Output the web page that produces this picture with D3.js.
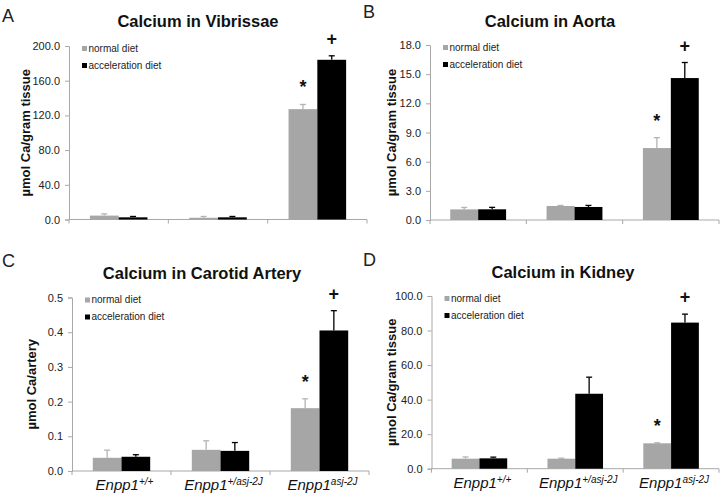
<!DOCTYPE html>
<html>
<head>
<meta charset="utf-8">
<script src="https://cdn.jsdelivr.net/npm/d3@7"></script>
<style>
  body { margin: 0; background: #fff; }
  svg { font-family: "Liberation Sans", Arial, sans-serif; }
</style>
</head>
<body>
<div id="chart"></div>
<script>
// genotypes on the x axis
var genoBase = "Enpp1";
var genoSup = ["+/+", "+/asj-2J", "asj-2J"];
var seriesNames = ["normal diet", "acceleration diet"];

// A - vibrissae (umol Ca / gram tissue)
var vibNormal = [4.5, 2.0, 127.2];
var vibNormalErr = [2.0, 1.5, 5.4];
var vibAccel = [2.5, 2.5, 184.1];
var vibAccelErr = [1.0, 1.0, 4.6];

// B - aorta
var aortaNormal = [1.09, 1.44, 7.4];
var aortaNormalErr = [0.2, 0.06, 1.07];
var aortaAccel = [1.1, 1.34, 14.6];
var aortaAccelErr = [0.2, 0.16, 1.6];

// C - carotid artery (umol Ca / artery)
var carNormal = [0.038, 0.061, 0.181];
var carNormalErr = [0.022, 0.026, 0.027];
var carAccel = [0.041, 0.058, 0.405];
var carAccelErr = [0.006, 0.024, 0.057];

// D - kidney
var kidNormal = [5.8, 5.8, 14.7];
var kidNormalErr = [1.0, 0.3, 0.3];
var kidAccel = [6.0, 43.4, 84.6];
var kidAccelErr = [0.7, 9.6, 4.9];

// y tick values
var vibTicks = [0, 40, 80, 120, 160, 200];
var aortaTicks = [0, 3, 6, 9, 12, 15, 18];
var carTicks = [0, 0.1, 0.2, 0.3, 0.4, 0.5];
var kidTicks = [0, 20, 40, 60, 80, 100];

var width = 722, height = 498;
var grayFill = "#a6a6a6";
var axisColor = "#a8a8a8";

var svg = d3.select("#chart").append("svg")
  .attr("width", width)
  .attr("height", height);

function drawPanel(p) {
  var g = svg.append("g");

  var x = d3.scaleBand().domain([0, 1, 2]).range([p.left, p.right]);
  var inner = d3.scaleBand().domain([0, 1]).range([0, x.bandwidth()]).paddingOuter(0.725);
  var y = d3.scaleLinear().domain([0, p.ticks[p.ticks.length - 1]]).range([p.bottom, p.top]);

  // panel letter + title
  g.append("text")
    .attr("x", p.letterX).attr("y", p.letterY)
    .style("font-size", "18px").attr("fill", "#222")
    .text(p.letter);
  g.append("text")
    .attr("x", p.titleX).attr("y", p.titleY)
    .attr("text-anchor", "middle")
    .style("font-size", "16.5px").style("font-weight", "bold")
    .attr("fill", "#111")
    .text(p.title);

  // y axis
  var yAxis = g.append("g")
    .attr("transform", "translate(" + p.left + ",0)")
    .call(d3.axisLeft(y).tickValues(p.ticks).tickFormat(d3.format(".1f")).tickSize(4).tickPadding(5));
  yAxis.selectAll("path, line").attr("stroke", axisColor);
  yAxis.selectAll("text").style("font-size", "11px").attr("fill", "#222")
    .style("font-family", "'Liberation Sans', Arial, sans-serif");

  // y label
  g.append("text")
    .attr("transform", "translate(" + p.ylabX + "," + ((p.top + p.bottom) / 2) + ") rotate(-90)")
    .attr("text-anchor", "middle")
    .style("font-size", "13px").style("font-weight", "bold")
    .attr("fill", "#111")
    .text(p.ylabel);

  // x axis line + ticks at category boundaries
  g.append("line")
    .attr("x1", p.left).attr("x2", p.right)
    .attr("y1", p.bottom).attr("y2", p.bottom)
    .attr("stroke", axisColor);
  g.selectAll(".xtick").data([0, 1, 2, 3]).join("line")
    .attr("x1", d => p.left + d * x.step()).attr("x2", d => p.left + d * x.step())
    .attr("y1", p.bottom).attr("y2", p.bottom + 4)
    .attr("stroke", axisColor);

  var series = [
    { vals: p.normal, err: p.normalErr, fill: grayFill, errColor: "#b4b4b4", mark: "*" },
    { vals: p.accel, err: p.accelErr, fill: "#000", errColor: "#000", mark: "+" }
  ];

  series.forEach(function (s, si) {
    var bars = g.append("g");
    // error bars (upper only)
    bars.selectAll(".err").data(s.vals).join("line")
      .attr("x1", (d, i) => x(i) + inner(si) + inner.bandwidth() / 2)
      .attr("x2", (d, i) => x(i) + inner(si) + inner.bandwidth() / 2)
      .attr("y1", d => y(d))
      .attr("y2", (d, i) => y(d + s.err[i]))
      .attr("stroke", s.errColor).attr("stroke-width", 1.3);
    bars.selectAll(".cap").data(s.vals).join("line")
      .attr("x1", (d, i) => x(i) + inner(si) + inner.bandwidth() / 2 - 3)
      .attr("x2", (d, i) => x(i) + inner(si) + inner.bandwidth() / 2 + 3)
      .attr("y1", (d, i) => y(d + s.err[i]))
      .attr("y2", (d, i) => y(d + s.err[i]))
      .attr("stroke", s.errColor).attr("stroke-width", 1.3);
    bars.selectAll("rect").data(s.vals).join("rect")
      .attr("x", (d, i) => x(i) + inner(si))
      .attr("y", d => y(d))
      .attr("width", inner.bandwidth())
      .attr("height", d => p.bottom - y(d))
      .attr("fill", s.fill);

    // significance mark over the Enpp1 asj-2J group
    g.append("text")
      .attr("x", x(2) + inner(si) + inner.bandwidth() / 2)
      .attr("y", y(s.vals[2] + s.err[2]) - 11)
      .attr("text-anchor", "middle")
      .style("font-size", "18px").style("font-weight", "bold")
      .attr("fill", "#111")
      .text(s.mark);
  });

  // legend
  series.forEach(function (s, si) {
    var ly = p.top + 3 + si * 17;
    g.append("rect")
      .attr("x", p.left + 13).attr("y", ly - 3)
      .attr("width", 5).attr("height", 5)
      .attr("fill", s.fill);
    g.append("text")
      .attr("x", p.left + 19.5).attr("y", ly + 2.5)
      .style("font-size", "10px").attr("fill", "#222")
      .text(seriesNames[si]);
  });

  // x labels
  if (p.xlabels) {
    var lab = g.selectAll(".xl").data(genoSup).join("text")
      .attr("x", (d, i) => x(i) + x.bandwidth() / 2 + 3)
      .attr("y", p.bottom + 19)
      .attr("text-anchor", "middle")
      .style("font-style", "italic")
      .style("font-size", "15px")
      .attr("fill", "#111");
    lab.append("tspan").text(genoBase);
    lab.append("tspan").attr("dy", -5).style("font-size", "10px").text(d => d);
  }
}

drawPanel({ letter: "A", letterX: 2, letterY: 22, title: "Calcium in Vibrissae", titleX: 198, titleY: 27,
  left: 69, right: 367, top: 46, bottom: 219.5, ticks: vibTicks, ylabel: "\u00b5mol Ca/gram tissue", ylabX: 30,
  normal: vibNormal, normalErr: vibNormalErr, accel: vibAccel, accelErr: vibAccelErr, xlabels: false });

drawPanel({ letter: "B", letterX: 363, letterY: 18, title: "Calcium in Aorta", titleX: 550, titleY: 27,
  left: 430, right: 719, top: 45, bottom: 220, ticks: aortaTicks, ylabel: "\u00b5mol Ca/gram tissue", ylabX: 396,
  normal: aortaNormal, normalErr: aortaNormalErr, accel: aortaAccel, accelErr: aortaAccelErr, xlabels: false });

drawPanel({ letter: "C", letterX: 2, letterY: 267, title: "Calcium in Carotid Artery", titleX: 202, titleY: 279,
  left: 72, right: 369, top: 297.5, bottom: 471, ticks: carTicks, ylabel: "\u00b5mol Ca/artery", ylabX: 36,
  normal: carNormal, normalErr: carNormalErr, accel: carAccel, accelErr: carAccelErr, xlabels: true });

drawPanel({ letter: "D", letterX: 363, letterY: 266, title: "Calcium in Kidney", titleX: 563, titleY: 278,
  left: 431.5, right: 719, top: 296, bottom: 468.7, ticks: kidTicks, ylabel: "\u00b5mol Ca/gram tissue", ylabX: 396,
  normal: kidNormal, normalErr: kidNormalErr, accel: kidAccel, accelErr: kidAccelErr, xlabels: true });
</script>
</body>
</html>
